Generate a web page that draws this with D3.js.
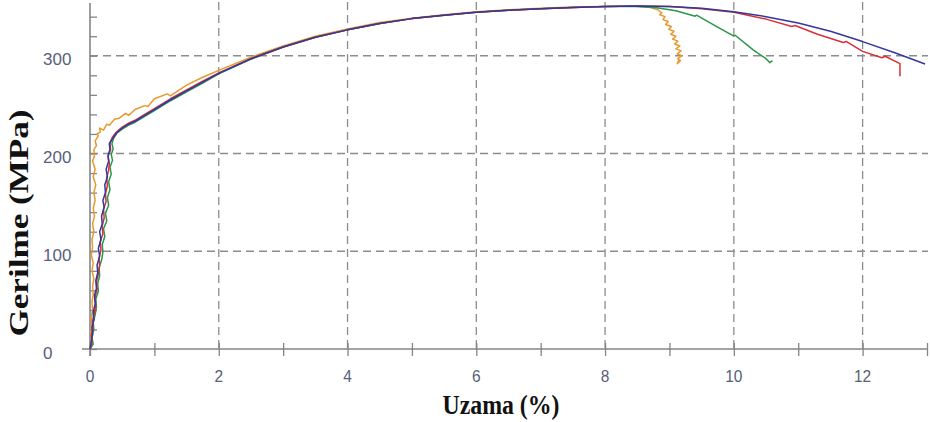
<!DOCTYPE html>
<html>
<head>
<meta charset="utf-8">
<script src="https://cdn.jsdelivr.net/npm/d3@7"></script>
<style>
  html, body { margin: 0; padding: 0; background: #ffffff; }
  svg { display: block; }
</style>
</head>
<body>
<svg id="chart" width="930" height="422"></svg>
<script>
// ---------------- DATA ----------------
const xTicks = [0,1,2,3,4,5,6,7,8,9,10,11,12,13];
const xTickLabels = [0,2,4,6,8,10,12];
const xGrid = [2,4,6,8,10,12];
const yTicks = [0,20,40,60,80,100,120,140,160,180,200,220,240,260,280,300,320,340];
const yTickLabels = [0,100,200,300];
const yGrid = [100,200,300];
const xTitle = "Uzama (%)";
const yTitle = "Gerilme (MPa)";

const strainOrange = [0,0.02,0.01,0.03,0.02,0.04,0.03,0.05,0.04,0.06,
  0.03,0.05,0.02,0.04,0.03,0.06,0.04,0.07,0.05,0.08,
  0.06,0.09,0.05,0.08,0.04,0.07,0.06,0.10,0.08,0.13,
  0.11,0.16,0.15,0.21,0.26,0.3,0.38,0.45,0.55,0.6,
  0.7,0.85,0.9,1.0,1.2,1.25,1.5,1.75,2.0,2.5,
  3.0,3.5,4.0,4.5,5.0,5.5,6.0,6.5,7.0,7.5,
  8.0,8.4,8.7,8.82,8.88,8.85,8.93,8.9,8.98,8.94,
  9.03,8.99,9.07,9.02,9.1,9.05,9.13,9.08,9.16,9.1,
  9.18,9.12,9.19,9.13,9.17,9.12,9.15];
const stressOrange = [0,8,16,24,32,40,48,56,64,72,
  80,88,96,104,112,120,128,136,144,152,
  160,168,176,184,192,198,204,208,213,218,
  220,222,226,224,230,229,235,236,241,239,
  245,249,248,256,261,259,270,278,285,298.5,
  310,320,327.5,334,338.5,342,345,347,348.5,350,
  350.5,351,349.5,347,344,342,340,337,335,332,
  330,327,325,322,320,317,315,312,310,307,
  305,302,300,297,295,292,296];

const strainGreen = [0,0.05,0.03,0.06,0.05,0.08,0.10,0.09,0.13,0.12,
  0.15,0.14,0.18,0.20,0.19,0.23,0.21,0.26,0.24,0.29,
  0.27,0.31,0.29,0.33,0.31,0.35,0.33,0.36,0.34,0.37,
  0.42,0.5,0.6,0.7,0.85,1.0,1.25,1.5,1.75,2.0,
  2.5,3.0,3.5,4.0,4.5,5.0,5.5,6.0,6.5,7.0,
  7.5,8.0,8.5,8.8,9.1,9.4,9.42,9.7,10.0,10.02,
  10.3,10.5,10.56,10.6];
const stressGreen = [0,5,12,20,27,35,43,51,59,67,
  75,83,91,99,107,115,123,131,139,147,
  155,163,171,179,186,193,199,205,210,216,
  221,225,229,232,238,244,254,263,272,281.5,
  296.5,309,319,326.5,333,338,341.5,344.5,346.5,348,
  349.5,350.5,350.5,349,346,340.5,341.5,331,320,321,
  306,297,293,295];

const strainRed = [0,0.03,0.02,0.05,0.04,0.07,0.09,0.08,0.11,0.10,
  0.13,0.15,0.14,0.17,0.16,0.20,0.19,0.22,0.21,0.25,
  0.24,0.27,0.26,0.29,0.30,0.28,0.32,0.31,0.35,0.41,
  0.5,0.6,0.7,0.85,1.0,1.25,1.5,1.75,2.0,2.5,
  3.0,3.5,4.0,4.5,5.0,5.5,6.0,6.5,7.0,7.5,
  8.0,8.5,9.0,9.5,10.0,10.5,10.9,10.95,11.3,11.7,
  11.75,12.0,12.3,12.35,12.58,12.58];
const stressRed = [0,6,14,21,29,37,45,53,61,69,
  77,85,93,101,110,118,126,134,143,151,
  159,167,175,183,190,197,204,211,217,222,
  227,231,234,240,246,256,265,274,282.5,297,
  309,319,326.5,333,338,341.5,344.5,346.5,348,349.5,
  350.5,351,350.5,348,344.5,337.5,330,331,322,313.5,
  314.5,304.5,298,299.5,292,279];

const strainBlue = [0,0.02,0.04,0.03,0.06,0.05,0.08,0.07,0.10,0.09,
  0.12,0.11,0.15,0.13,0.17,0.15,0.19,0.18,0.22,0.20,
  0.24,0.23,0.27,0.25,0.29,0.28,0.31,0.30,0.35,0.41,
  0.5,0.6,0.7,0.85,1.0,1.25,1.5,1.75,2.0,2.5,
  3.0,3.5,4.0,4.5,5.0,5.5,6.0,6.5,7.0,7.5,
  8.0,8.5,9.0,9.5,10.0,10.5,11.0,11.5,12.0,12.5,
  12.97];
const stressBlue = [0,8,15,22,30,38,46,55,62,70,
  78,86,95,103,112,120,128,136,145,152,
  160,168,176,184,192,198,204,210,215,221,
  226,230,233,239,245,255,264,273,282,297,
  309,319,326.5,333,338,341.5,344.5,346.5,348,349.5,
  350.5,351,350.5,348.5,345,340,333.5,325,314.5,303,
  291.5];

const seriesNames = ["orange","green","red","blue"];
const seriesColors = ["#e8992e","#2c9649","#d7303a","#35379b"];

// ---------------- CHART ----------------
const svg = d3.select("#chart");
const x = d3.scaleLinear().domain([0, 13]).range([90, 927]);
const y = d3.scaleLinear().domain([0, 355]).range([349, 2]);

const axisColor = "#858585";
const labelColor = "#56607a";

// grid
svg.append("g").selectAll("line").data(xGrid).join("line")
  .attr("x1", d => x(d)).attr("x2", d => x(d))
  .attr("y1", y(355)).attr("y2", y(0))
  .attr("stroke", "#8c8c8c").attr("stroke-width", 1.3)
  .attr("stroke-dasharray", "8,5");
svg.append("g").selectAll("line").data(yGrid).join("line")
  .attr("x1", x(0)).attr("x2", x(13) + 1)
  .attr("y1", d => y(d)).attr("y2", d => y(d))
  .attr("stroke", "#8c8c8c").attr("stroke-width", 1.3)
  .attr("stroke-dasharray", "8,5");

// x axis
const gx = svg.append("g").attr("transform", `translate(0,${y(0)})`)
  .call(d3.axisBottom(x).tickValues(xTicks).tickSize(7).tickFormat(""));
gx.select(".domain").remove();
gx.selectAll(".tick line").attr("y1", -6).attr("stroke", axisColor).attr("stroke-width", 1.3);
svg.append("line").attr("x1", x(0) - 8).attr("x2", x(13) + 1)
  .attr("y1", y(0)).attr("y2", y(0)).attr("stroke", axisColor).attr("stroke-width", 1.6);

svg.append("g").selectAll("text").data(xTickLabels).join("text")
  .attr("x", d => x(d)).attr("y", 382)
  .attr("text-anchor", "middle")
  .attr("font-family", "Liberation Sans, Arial, sans-serif")
  .attr("font-size", 17).attr("fill", labelColor)
  .attr("textLength", d => String(d).length * 8.6)
  .attr("lengthAdjust", "spacingAndGlyphs")
  .text(d => d);

// y axis
const gy = svg.append("g").attr("transform", `translate(${x(0)},0)`)
  .call(d3.axisLeft(y).tickValues(yTicks).tickSize(6).tickFormat(""));
gy.select(".domain").remove();
gy.selectAll(".tick line").attr("x2", 7).attr("stroke", axisColor).attr("stroke-width", 1.3);
svg.append("line").attr("x1", x(0)).attr("x2", x(0))
  .attr("y1", 3).attr("y2", y(0) + 7).attr("stroke", axisColor).attr("stroke-width", 1.6);

svg.append("g").selectAll("text").data(yTickLabels).join("text")
  .attr("x", 43).attr("y", d => y(d) + 9.5)
  .attr("text-anchor", "start")
  .attr("font-family", "Liberation Sans, Arial, sans-serif")
  .attr("font-size", 17).attr("fill", labelColor)
  .text(d => d);

// curves
const seriesData = [
  d3.zip(strainOrange, stressOrange),
  d3.zip(strainGreen, stressGreen),
  d3.zip(strainRed, stressRed),
  d3.zip(strainBlue, stressBlue)
];
const line = d3.line().x(d => x(d[0])).y(d => y(d[1]));
svg.append("g").selectAll("path").data(seriesData).join("path")
  .attr("d", line)
  .attr("fill", "none")
  .attr("stroke", (d, i) => seriesColors[i])
  .attr("stroke-width", 1.5)
  .attr("stroke-linejoin", "round")
  .attr("class", (d, i) => "series-" + seriesNames[i]);

// titles
svg.append("text")
  .attr("x", 501).attr("y", 414)
  .attr("text-anchor", "middle")
  .attr("font-family", "Liberation Serif, Times New Roman, serif")
  .attr("font-weight", "bold").attr("font-size", 27).attr("fill", "#111")
  .attr("textLength", 117).attr("lengthAdjust", "spacingAndGlyphs")
  .text(xTitle);

svg.append("text")
  .attr("transform", "translate(28,223) rotate(-90)")
  .attr("text-anchor", "middle")
  .attr("font-family", "Liberation Serif, Times New Roman, serif")
  .attr("font-weight", "bold").attr("font-size", 27).attr("fill", "#111")
  .attr("textLength", 227).attr("lengthAdjust", "spacingAndGlyphs")
  .text(yTitle);
</script>
</body>
</html>
